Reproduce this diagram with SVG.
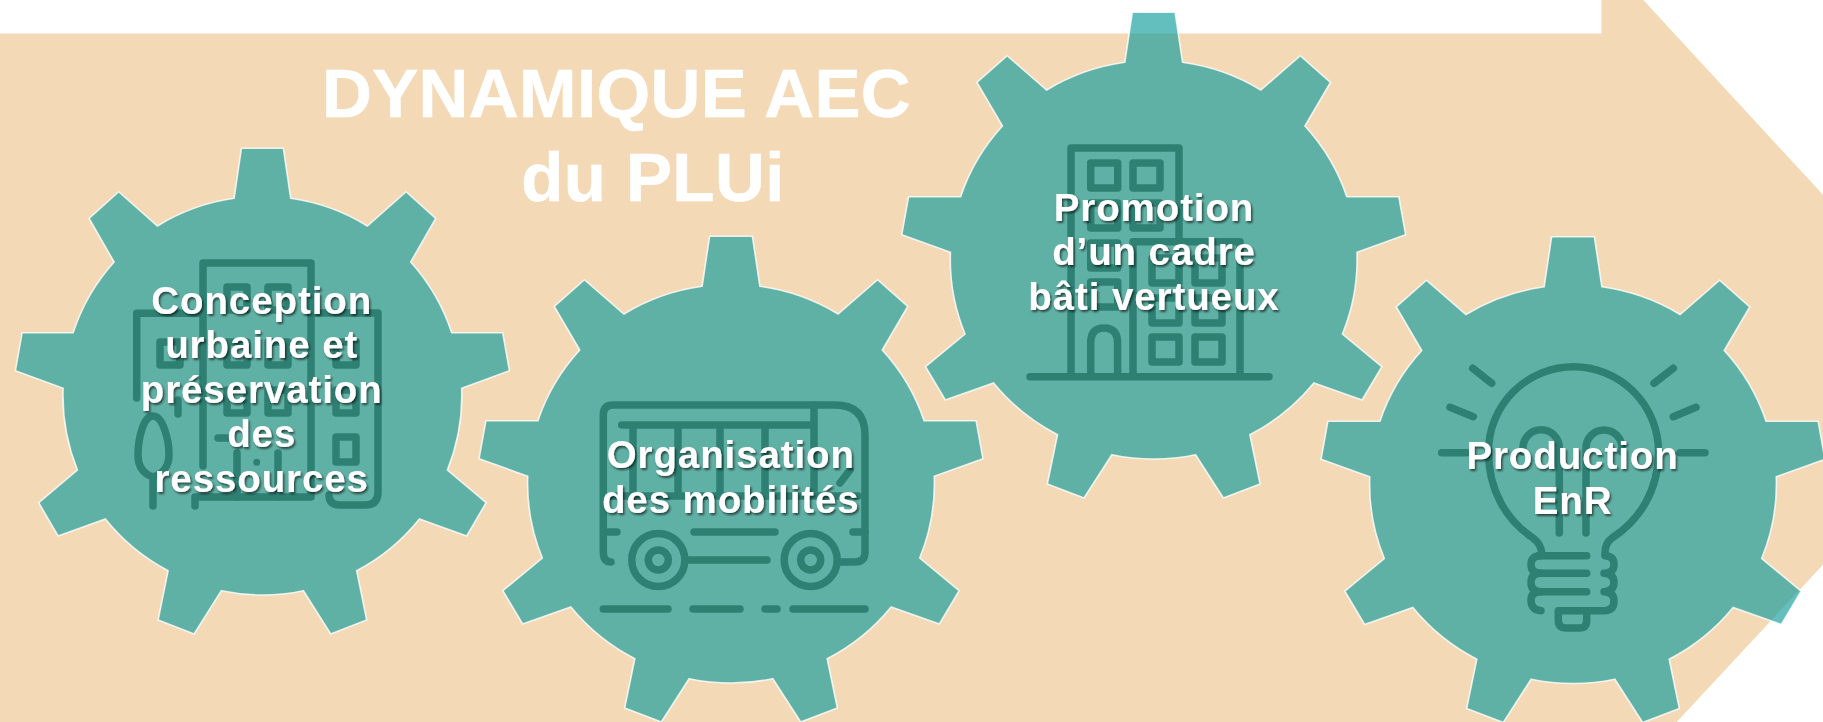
<svg xmlns="http://www.w3.org/2000/svg" width="1823" height="722" viewBox="0 0 1823 722">
<style>
.gear{fill:#169c9d;fill-opacity:.66;stroke:#fff;stroke-opacity:.8;stroke-width:1.6}
.ic{fill:none;stroke:#2e8073;stroke-width:7.5;stroke-linecap:round;stroke-linejoin:round}
.t{font-family:"Liberation Sans",Arial,sans-serif;font-weight:700;fill:#fff;text-anchor:middle}
.lab{font-size:38.5px;letter-spacing:.9px;filter:url(#sh)}
.title{font-size:69px;stroke:#fff;stroke-width:.6;letter-spacing:.4px}
</style>
<defs>
<filter id="sh" x="-10%" y="-20%" width="120%" height="150%"><feDropShadow dx="1.5" dy="2" stdDeviation="1.2" flood-color="#000" flood-opacity=".6"/></filter>
<filter id="soft" filterUnits="userSpaceOnUse" x="-20" y="-20" width="1863" height="762"><feGaussianBlur stdDeviation=".7"/></filter>
<path id="g" class="gear" d="M-21,-245.7L21,-245.7L28.3,-195.7A199,199 0 0 1 105,-168L143.7,-202.3L173.3,-175.7L148.3,-132A199,199 0 0 1 189.3,-61.3L240.3,-61.3L247,-23.3L199.3,-5.7A199,199 0 0 1 185,76L223.7,108.7L204.3,142L157,125A199,199 0 0 1 94.3,176.7L104.3,226L68.3,240L41,196.7A199,199 0 0 1 -41,196.7L-68.3,240L-104.3,226L-94.3,176.7A199,199 0 0 1 -157,125L-204.3,142L-223.7,108.7L-185,76A199,199 0 0 1 -199.3,-5.7L-247,-23.3L-240.3,-61.3L-189.3,-61.3A199,199 0 0 1 -148.3,-132L-173.3,-175.7L-143.7,-202.3L-105,-168A199,199 0 0 1 -28.3,-195.7Z"/>
</defs>
<rect width="1823" height="722" fill="#fff"/>
<g filter="url(#soft)">
<polygon id="arrow" fill="#f3d9b6" points="-30,33.6 1601.4,33.6 1601.4,-30 1615.6,-30 1643.3,0 1853,227.4 1853,532.5 1632,770 -30,770"/>
<g id="title"><text class="t title" x="616.5" y="116.7">DYNAMIQUE AEC</text><text class="t title" x="653" y="201.3">du PLUi</text></g>

<g id="node-conception">
<use href="#g" transform="translate(262.4,394)"/>
<g class="ic">
<path d="M203,466V263H311V497M195,506V497H311M136.7,398V313.3H200M315,313H378V492Q378,505 365,505H340Q329,505 329,495"/>
<path d="M153,416C163,416 169,440 169,455C169,467 162,474 153,477C144,474 138,467 138,455C138,440 143,416 153,416ZM153,477V506"/>
<rect x="160" y="342" width="20" height="23"/><path d="M178,400V414"/>
<rect x="227" y="287" width="20" height="23"/><rect x="268" y="287" width="20" height="23"/>
<rect x="227" y="342" width="20" height="23"/><rect x="268" y="342" width="20" height="23"/>
<rect x="227" y="390" width="20" height="23"/><rect x="268" y="390" width="20" height="23"/>
<rect x="336" y="342" width="20" height="23"/><rect x="336" y="390" width="20" height="23"/><rect x="336" y="437" width="20" height="25"/>
<path d="M218,438H230M237,497V453M278,497V453"/>
</g>
<circle cx="256.7" cy="462.3" r="3.5" fill="#2e8073"/>
<text class="t lab" x="261.7" y="313.5">Conception</text>
<text class="t lab" x="261.7" y="358">urbaine et</text>
<text class="t lab" x="261.7" y="402.5">préservation</text>
<text class="t lab" x="261.7" y="447">des</text>
<text class="t lab" x="261.7" y="491.5">ressources</text>
</g>

<g id="node-mobilites">
<use href="#g" transform="translate(731,482) scale(1.02,1)"/>
<g class="ic">
<path d="M611,562Q603.3,562 603.3,552V415Q603.3,405 613,405H835Q865,405 865,435V552Q865,562 855,562H840"/>
<path d="M621.7,425H812M814,405V495M633,425V495M678,425V495M720,425V495M765,425V495M610,496H858M840,483L850,470"/>
<path d="M608,532H617M853,532H865M694,532H775M688,560H767"/>
<circle cx="658.3" cy="560" r="26.5"/><circle cx="658.3" cy="560" r="10"/>
<circle cx="810.7" cy="560" r="26.5"/><circle cx="810.7" cy="560" r="10"/>
<path d="M603.3,609H668M693,609H740M765,609H777M793,609H865"/>
</g>
<text class="t lab" x="730.8" y="468.3">Organisation</text>
<text class="t lab" x="730.8" y="513.3">des mobilités</text>
</g>

<g id="node-bati">
<use href="#g" transform="translate(1153.7,258) scale(1.02,1)"/>
<g class="ic">
<path d="M1071,376V148H1179V240M1133,376V241.7H1240V376M1030,376.7H1269M1090.7,376V343Q1090.7,328 1104,328Q1117.6,328 1117.6,343V376"/>
<rect x="1090.7" y="163" width="27" height="25"/><rect x="1133" y="163" width="27" height="25"/>
<rect x="1090.7" y="203" width="27" height="25"/><rect x="1133" y="203" width="27" height="25"/>
<rect x="1090.7" y="243" width="27" height="25"/><rect x="1090.7" y="282" width="27" height="25"/>
<rect x="1152" y="258" width="27" height="25"/><rect x="1195" y="258" width="27" height="25"/>
<rect x="1152" y="298" width="27" height="25"/><rect x="1195" y="298" width="27" height="25"/>
<rect x="1152" y="337" width="27" height="25"/><rect x="1195" y="337" width="27" height="25"/>
</g>
<text class="t lab" x="1154" y="220.7">Promotion</text>
<text class="t lab" x="1154" y="265">d’un cadre</text>
<text class="t lab" x="1154" y="310">bâti vertueux</text>
</g>

<g id="node-enr">
<use href="#g" transform="translate(1573,482.5) scale(1.02,1)"/>
<g class="ic">
<path d="M1541.7,553C1541,545 1537,541 1533,538C1506,520 1488.5,490 1488.5,451.7A85,85 0 0 1 1658.5,451.7C1658.5,490 1640,520 1612,538C1608,541 1605,547 1605,553"/>
<path d="M1559.3,533V448A18,18 0 0 0 1523,448V452M1586,533V448A18,18 0 0 1 1622,448V452"/>
<path d="M1472.7,368.3L1491.7,383.3M1450,407.3L1473.3,416.7M1441.7,452.7H1466.7M1673.3,368.3L1654,383.3M1696,407.3L1673.3,416.7M1705,452.7H1680"/>
<path d="M1538.3,555.7H1586.7M1538.3,573.3H1586.7M1538.3,591.7H1586.7"/>
<path d="M1541,555.7Q1531,555.7 1531,564.5Q1531,573.3 1541,573.3Q1531,573.3 1531,582.5Q1531,591.7 1541,591.7Q1531,591.7 1531,600Q1531,610 1541,610.7"/>
<path d="M1605,555.7Q1614,556 1614,564.5Q1614,573 1604,573.3Q1614,574 1614,582.5Q1614,591 1604,591.7Q1614,592 1614,601Q1614,610.7 1604,610.7H1558.3V620Q1558.3,628 1566,628H1580Q1586.7,628 1586.7,620V610.7"/>
</g>
<text class="t lab" x="1572.5" y="469.3">Production</text>
<text class="t lab" x="1572.5" y="514">EnR</text>
</g>
</g>
</svg>
